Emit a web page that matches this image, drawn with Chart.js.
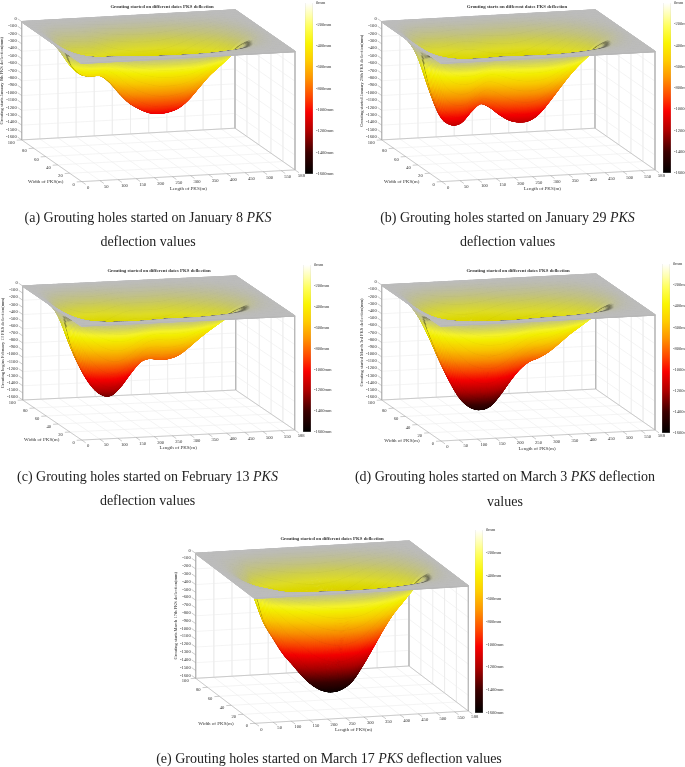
<!DOCTYPE html>
<html>
<head>
<meta charset="utf-8">
<title>PKS deflection</title>
<script src="https://cdn.jsdelivr.net/npm/chart.js@4"></script>
<style>
body { margin: 0; background: #fff; }
#page { position: relative; width: 685px; height: 767px; overflow: hidden; }
canvas { position: absolute; }
.cap { position: absolute; width: 360px; text-align: center; font: 14px "Liberation Serif", serif; color: #222; white-space: nowrap; }
</style>
</head>
<body>
<div id="page"></div>
<script>
// values
const lengthTicks = [0, 50, 100, 150, 200, 250, 300, 350, 400, 450, 500, 550, 588];
const widthTicks = [0, 20, 40, 60, 80, 100];
const depthTicks = [0, -100, -200, -300, -400, -500, -600, -700, -800, -900, -1000, -1100, -1200, -1300, -1400, -1500, -1600];
const barTicks = [0, -200, -400, -600, -800, -1000, -1200, -1400, -1600];

// centre line deflection (mm) at evenly spaced stations along the length
const lengthGrid = [0, 26.7, 53.5, 80.2, 106.9, 133.6, 160.4, 187.1, 213.8, 240.5, 267.3, 294, 320.7, 347.5, 374.2, 400.9, 427.6, 454.4, 481.1, 507.8, 534.5, 561.3, 588];
const january8 = [0, 130, 330, 450, 475, 480, 580, 735, 870, 955, 1015, 1035, 1020, 975, 870, 720, 570, 450, 320, 190, 90, 25, 0];
const january29 = [0, 250, 690, 1020, 1135, 1120, 980, 875, 925, 1030, 1115, 1150, 1140, 1060, 910, 740, 570, 420, 290, 170, 80, 25, 0];
const february13 = [0, 190, 590, 900, 1130, 1265, 1290, 1170, 990, 840, 795, 815, 808, 760, 660, 545, 440, 340, 240, 150, 75, 25, 0];
const march3 = [0, 190, 480, 800, 1085, 1320, 1450, 1494, 1455, 1310, 1125, 965, 860, 810, 735, 630, 515, 415, 310, 200, 100, 30, 0];
const march17 = [0, 30, 120, 260, 620, 840, 1040, 1190, 1340, 1460, 1535, 1560, 1530, 1440, 1260, 1050, 830, 630, 470, 300, 150, 50, 0];

// share of the centre line deflection across the width
const widthGrid = [0, 5, 10, 15, 20, 25, 30, 35, 40, 45, 50, 55, 60, 65, 70, 75, 80, 85, 90, 95, 100];
const widthShape = [0, 0.01, 0.03, 0.07, 0.14, 0.24, 0.37, 0.53, 0.72, 0.91, 1, 0.91, 0.72, 0.53, 0.37, 0.24, 0.14, 0.07, 0.03, 0.01, 0];

const chartTitles = [
    'Grouting started on different dates PKS deflection',
    'Grouting starts on different dates PKS deflection',
    'Grouting started on different dates PKS deflection',
    'Grouting started on different dates PKS deflection',
    'Grouting started on different dates PKS deflection'
];
const depthTitles = [
    'Grouting starts January 8th PKS deflection(mm)',
    'Grouting started January 29th PKS deflection(mm)',
    'Grouting begins February 13 PKS deflection(mm)',
    'Grouting started March 3rd PKS deflection(mm)',
    'Grouting starts March 17th PKS deflection(mm)'
];
const panelDepths = [january8, january29, february13, march3, march17];

// layout of each panel, in page pixels
const panels = [
    { left: 0, top: 0, origin: [81.7, 63.3], lengthVec: [213.3, -11.7], widthVec: [-60, -41.7], zPx: 118.3, titleX: 162, titleY: 7, lengthShift: 0, widthShift: -36, bar: [305, 3, 171] },
    { left: 340, top: 0, origin: [441.7, 63.3], lengthVec: [213.3, -11.7], widthVec: [-60, -41.7], zPx: 118.3, titleX: 517, titleY: 7, lengthShift: -6, widthShift: -40, bar: [663, 3, 170] },
    { left: 0, top: 260, origin: [81.7, 326], lengthVec: [213, -10], widthVec: [-59, -40], zPx: 114, titleX: 159, titleY: 271, lengthShift: -10, widthShift: -40, bar: [303, 265, 167] },
    { left: 340, top: 260, origin: [441, 326], lengthVec: [214, -11], widthVec: [-59.3, -41], zPx: 115, titleX: 518, titleY: 271, lengthShift: -11, widthShift: -39, bar: [662, 264, 169] },
    { left: 160, top: 520, origin: [255, 598.3], lengthVec: [213.3, -12.3], widthVec: [-59.3, -45], zPx: 125, titleX: 332, titleY: 539, lengthShift: -8, widthShift: -39, bar: [475, 530, 183] }
];
const canvasW = 345;
const canvasH = 240;

// colour bar of the reference: depth (mm), r, g, b
const colorStops = [
    [0, 255, 255, 255], [120, 255, 255, 170], [220, 255, 255, 90], [380, 250, 245, 0],
    [540, 255, 205, 0], [700, 255, 150, 0], [880, 255, 70, 0], [1020, 250, 0, 0],
    [1200, 175, 0, 0], [1400, 60, 0, 0], [1600, 0, 0, 0]
];

function colorAt(depth) {
    var d = Math.max(0, Math.min(1600, depth));
    for (var i = 1; i < colorStops.length; i++) {
        if (d <= colorStops[i][0]) {
            var a = colorStops[i - 1], b = colorStops[i];
            var t = (d - a[0]) / (b[0] - a[0]);
            return [a[1] + (b[1] - a[1]) * t, a[2] + (b[2] - a[2]) * t, a[3] + (b[3] - a[3]) * t];
        }
    }
    return [0, 0, 0];
}

// the surface needs a denser mesh than the values read above, so the mesh
// between them is refined with a Catmull-Rom curve through those values
function refine(grid, values, x) {
    var step = grid[grid.length - 1] / (grid.length - 1);
    var i = Math.min(grid.length - 2, Math.floor(x / step));
    var t = x / step - i;
    var p0 = values[Math.max(0, i - 1)], p1 = values[i], p2 = values[i + 1], p3 = values[Math.min(values.length - 1, i + 2)];
    var v = 0.5 * (2 * p1 + (p2 - p0) * t + (2 * p0 - 5 * p1 + 4 * p2 - p3) * t * t + (3 * p1 - p0 - 3 * p2 + p3) * t * t * t);
    return Math.max(0, v);
}

function buildPanel(index) {
    var panel = panels[index];
    var depths = panelDepths[index];

    // length, width and deflection to canvas position
    function project(l, w, z) {
        return {
            x: panel.origin[0] - panel.left + panel.lengthVec[0] * l / 588 + panel.widthVec[0] * w / 100,
            y: panel.origin[1] - panel.top + panel.lengthVec[1] * l / 588 + panel.widthVec[1] * w / 100 - z / 1600 * panel.zPx
        };
    }

    var datasets = [];
    function addLine(a, b, color, width) {
        datasets.push({ data: [a, b], borderColor: color, borderWidth: width, showLine: true, pointRadius: 0 });
    }

    // back wall, right wall and floor grid
    var grid = '#ececec';
    lengthTicks.forEach(function (l) {
        addLine(project(l, 100, 0), project(l, 100, -1600), grid, 0.6);
        addLine(project(l, 0, -1600), project(l, 100, -1600), grid, 0.6);
    });
    widthTicks.forEach(function (w) {
        addLine(project(588, w, 0), project(588, w, -1600), grid, 0.6);
        addLine(project(0, w, -1600), project(588, w, -1600), grid, 0.6);
    });
    barTicks.forEach(function (z) {
        addLine(project(0, 100, z), project(588, 100, z), grid, 0.6);
        addLine(project(588, 100, z), project(588, 0, z), grid, 0.6);
    });

    // box edges
    var edge = '#b0b0b0';
    addLine(project(0, 100, 0), project(0, 100, -1600), edge, 0.6);
    addLine(project(588, 100, 0), project(588, 100, -1600), edge, 0.6);
    addLine(project(588, 0, 0), project(588, 0, -1600), edge, 0.6);
    addLine(project(0, 0, -1600), project(588, 0, -1600), edge, 0.6);
    addLine(project(0, 0, -1600), project(0, 100, -1600), edge, 0.6);
    addLine(project(0, 100, -1600), project(588, 100, -1600), edge, 0.6);
    addLine(project(588, 0, -1600), project(588, 100, -1600), edge, 0.6);

    // tick marks
    var tickColor = '#999';
    lengthTicks.forEach(function (l) {
        var a = project(l, 0, -1600);
        addLine(a, { x: a.x + 4, y: a.y + 2.8 }, tickColor, 0.5);
    });
    widthTicks.forEach(function (w) {
        var a = project(0, w, -1600);
        addLine(a, { x: a.x - 5, y: a.y + 0.3 }, tickColor, 0.5);
    });
    depthTicks.forEach(function (z) {
        var a = project(0, 100, z);
        addLine(a, { x: a.x - 4, y: a.y - 2.8 }, tickColor, 0.5);
    });

    // surface rows, painted from the back edge to the front edge
    var rowIndex = 0;
    var rowStep = 0.25;
    for (var w = 100; w >= 0; w -= rowStep) {
        var share = refine(widthGrid, widthShape, w);
        var nextShare = refine(widthGrid, widthShape, Math.min(100, w + rowStep));
        var points = [];
        var colors = [];
        for (var i = 0; i <= 118; i++) {
            var l = i * 588 / 118;
            var centre = refine(lengthGrid, depths, l);
            var depth = centre * share;
            points.push(project(l, w, -depth));
            var rgb = colorAt(depth);
            var base = w > 50 ? 0.88 : 0.97;
            var t = Math.min(1, depth / 300);
            var shade = (0.74 + (base - 0.74) * t * t) * (rowIndex % 16 === 0 ? 0.97 : 1);
            // mesh lines bunch up where the surface folds over, the reference goes dark there
            var spacing = Math.abs((-panel.widthVec[1] / 100) - (centre * (nextShare - share) / rowStep) * panel.zPx / 1600);
            if (spacing < 0.12) shade *= 0.55 + 0.45 * spacing / 0.12;
            colors.push('rgb(' + Math.round(rgb[0] * shade) + ',' + Math.round(rgb[1] * shade) + ',' + Math.round(rgb[2] * shade) + ')');
        }
        (function (rowColors) {
            datasets.push({
                data: points,
                showLine: true,
                pointRadius: 0,
                borderWidth: 1.4,
                borderCapStyle: 'round',
                segment: { borderColor: function (ctx) { return rowColors[ctx.p0DataIndex]; } }
            });
        })(colors);
        rowIndex++;
    }
    // first dataset is drawn last in Chart.js
    datasets.reverse();

    var labelPlugin = {
        id: 'labels3d',
        afterDraw: function (chart) {
            var c = chart.ctx;
            var sx = chart.scales.x, sy = chart.scales.y;
            function text(str, p, dx, dy, align) {
                c.textAlign = align;
                c.fillText(str, sx.getPixelForValue(p.x) + dx, sy.getPixelForValue(p.y) + dy);
            }
            c.save();
            c.textBaseline = 'middle';
            c.fillStyle = '#333';
            c.font = '4.6px "Liberation Serif"';
            lengthTicks.forEach(function (l) { text(String(l), project(l, 0, -1600), 6.5, 6, 'center'); });
            widthTicks.forEach(function (w) { text(String(w), project(0, w, -1600), -7, 2.8, 'right'); });
            depthTicks.forEach(function (z) { text(String(z), project(0, 100, z), -5, -3, 'right'); });
            c.font = '5px "Liberation Serif"';
            text('Length of PKS(m)', project(294, 0, -1600), panel.lengthShift, 13, 'center');
            text('Width of PKS(m)', project(0, 0, -1600), panel.widthShift, 0, 'center');
            c.font = 'bold 4.8px "Liberation Serif"';
            c.textAlign = 'center';
            c.fillText(chartTitles[index], panel.titleX - panel.left, panel.titleY - panel.top);
            var a = project(0, 100, -800);
            c.translate(sx.getPixelForValue(a.x) - 19.5, sy.getPixelForValue(a.y));
            c.rotate(-Math.PI / 2);
            c.font = '4.5px "Liberation Serif"';
            c.fillText(depthTitles[index], 0, 0);
            c.restore();
        }
    };

    var canvas = document.createElement('canvas');
    canvas.width = canvasW;
    canvas.height = canvasH;
    canvas.style.left = panel.left + 'px';
    canvas.style.top = panel.top + 'px';
    document.getElementById('page').appendChild(canvas);
    new Chart(canvas.getContext('2d'), {
        type: 'scatter',
        data: { datasets: datasets },
        options: {
            responsive: false,
            animation: false,
            parsing: false,
            normalized: true,
            events: [],
            layout: { padding: 0 },
            plugins: { legend: { display: false }, tooltip: { enabled: false } },
            scales: {
                x: { type: 'linear', display: false, min: 0, max: canvasW },
                y: { type: 'linear', display: false, min: 0, max: canvasH, reverse: true }
            }
        },
        plugins: [labelPlugin]
    });
}

function buildColorBar(panel) {
    var pad = 4;
    var canvas = document.createElement('canvas');
    canvas.width = 30;
    canvas.height = panel.bar[2] + pad * 2;
    canvas.style.left = panel.bar[0] + 'px';
    canvas.style.top = (panel.bar[1] - pad) + 'px';
    document.getElementById('page').appendChild(canvas);
    new Chart(canvas.getContext('2d'), {
        type: 'bar',
        data: {
            labels: ['mm'],
            datasets: [{
                data: [[-1600, 0]],
                barPercentage: 1,
                categoryPercentage: 1,
                borderColor: '#aaa',
                borderWidth: 0.5,
                backgroundColor: function (ctx) {
                    var area = ctx.chart.chartArea;
                    if (!area) return '#fff';
                    var g = ctx.chart.ctx.createLinearGradient(0, area.top, 0, area.bottom);
                    colorStops.forEach(function (s) {
                        g.addColorStop(s[0] / 1600, 'rgb(' + s[1] + ',' + s[2] + ',' + s[3] + ')');
                    });
                    return g;
                }
            }]
        },
        options: {
            responsive: false,
            animation: false,
            events: [],
            layout: { padding: { top: pad, bottom: pad, left: 0, right: 0 } },
            plugins: { legend: { display: false }, tooltip: { enabled: false } },
            scales: {
                x: { display: false },
                y: {
                    position: 'right',
                    min: -1600,
                    max: 0,
                    afterFit: function (scale) { scale.width = 22; },
                    afterBuildTicks: function (scale) { scale.ticks = barTicks.map(function (v) { return { value: v }; }); },
                    grid: { display: false, drawTicks: true, tickLength: 2 },
                    border: { display: false },
                    ticks: {
                        padding: 1,
                        color: '#333',
                        font: { family: 'Liberation Serif', size: 4.5 },
                        callback: function (v) { return v + 'mm'; }
                    }
                }
            }
        }
    });
}

for (var p = 0; p < panels.length; p++) {
    buildPanel(p);
    buildColorBar(panels[p]);
}

// captions under each chart
const captions = [
    { x: 148, y: 210, html: '(a) Grouting holes started on January 8 <i>PKS</i>' },
    { x: 148, y: 234, html: 'deflection values' },
    { x: 507.5, y: 210, html: '(b) Grouting holes started on January 29 <i>PKS</i>' },
    { x: 507.5, y: 234, html: 'deflection values' },
    { x: 147.5, y: 469, html: '(c) Grouting holes started on February 13 <i>PKS</i>' },
    { x: 147.5, y: 493, html: 'deflection values' },
    { x: 505, y: 469, html: '(d) Grouting holes started on March 3 <i>PKS</i> deflection' },
    { x: 505, y: 494, html: 'values' },
    { x: 329, y: 751, html: '(e) Grouting holes started on March 17 <i>PKS</i> deflection values' }
];
captions.forEach(function (cap) {
    var div = document.createElement('div');
    div.className = 'cap';
    div.style.left = (cap.x - 180) + 'px';
    div.style.top = cap.y + 'px';
    div.innerHTML = cap.html;
    document.getElementById('page').appendChild(div);
});
</script>
</body>
</html>
